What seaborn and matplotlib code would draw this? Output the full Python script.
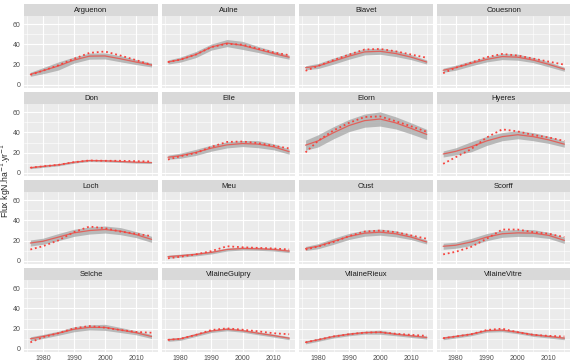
import numpy as np
import pandas as pd
import matplotlib
matplotlib.use("Agg")
import matplotlib.pyplot as plt
import seaborn as sns

years = [1976, 1980, 1985, 1990, 1995, 2000, 2005, 2010, 2015]

rivers = ["Arguenon", "Aulne", "Blavet", "Couesnon",
          "Don", "Elle", "Elorn", "Hyeres",
          "Loch", "Meu", "Oust", "Scorff",
          "Selche", "VilaineGuipry", "VilaineRieux", "VilaineVitre"]

# smoothed flux (solid line)
smooth = {
    "Arguenon": [10.5, 14, 18.7, 24.5, 28.4, 28.6, 25.8, 22.6, 19.7],
    "Aulne": [22.6, 25, 30, 37.4, 41.3, 39, 35, 31, 27.4],
    "Blavet": [17, 18.7, 23.5, 28.4, 32.6, 33.2, 31, 27.4, 22.6],
    "Couesnon": [14.5, 17, 21.3, 25.2, 28, 27.4, 24.5, 20.3, 15.5],
    "Don": [5.2, 6.5, 8, 10.6, 12.3, 12, 11.3, 10.6, 10.3],
    "Elle": [15.5, 17, 20.3, 24.5, 27.7, 29, 28.4, 25.8, 21],
    "Elorn": [27.4, 31.6, 39.7, 46.8, 51.6, 53.2, 49.4, 43.9, 38],
    "Hyeres": [18.7, 21.3, 25.8, 31.6, 35.8, 37.7, 35.8, 32.6, 28.4],
    "Loch": [17.7, 19.4, 23.5, 27.7, 30, 31, 29.4, 26, 21.3],
    "Meu": [4.2, 5.2, 6.5, 8.4, 11.3, 12.3, 12, 11.3, 9.7],
    "Oust": [12.3, 14.5, 19.4, 24.2, 27.4, 28.4, 26.8, 23.5, 18.7],
    "Scorff": [14.5, 15.5, 18.7, 23.5, 26.8, 27.7, 27.4, 25.2, 20.3],
    "Selche": [10, 12.3, 15.5, 19.4, 21.3, 21.3, 18.7, 16, 12.3],
    "VilaineGuipry": [9, 10, 13.9, 17.7, 19.4, 18, 15.5, 13.2, 10.6],
    "VilaineRieux": [6.5, 9, 12.3, 14.5, 16.1, 16.5, 14.5, 12.9, 11.3],
    "VilaineVitre": [10.6, 12.3, 14.5, 18, 18.5, 16.5, 13.9, 12.3, 10.6],
}

# modelled flux (dotted line)
dotted = {
    "Arguenon": [10, 14, 19.4, 25.8, 31.6, 33, 29, 24.5, 19.7],
    "Aulne": [22.6, 25, 30, 37.4, 40.6, 39.7, 35.8, 32, 29.4],
    "Blavet": [14, 18.7, 24.5, 30, 35, 35.5, 33.2, 30, 26.8],
    "Couesnon": [11.6, 17, 22, 27.4, 30.6, 29, 26, 23, 20],
    "Don": [5.2, 6.5, 8, 10.6, 12.3, 12, 12, 11.6, 11.3],
    "Elle": [13.2, 16.5, 19.7, 25.8, 30.6, 31, 29.4, 26.8, 24.2],
    "Elorn": [20.3, 31.6, 42, 49.4, 55.2, 55.8, 51, 46, 40.6],
    "Hyeres": [9, 15.5, 23.5, 35, 43, 41, 37.4, 35, 31.6],
    "Loch": [11.3, 14.5, 20.3, 28.4, 33.9, 32.3, 29, 26.8, 24.5],
    "Meu": [2.6, 4.2, 6.5, 9.7, 14.5, 13.5, 12.9, 12.3, 11.3],
    "Oust": [11.3, 14.2, 18.7, 24.5, 29, 30, 28.4, 25.2, 21.9],
    "Scorff": [6.5, 9, 13.9, 21.9, 31, 31, 28.4, 26.8, 23.5],
    "Selche": [6.5, 11.6, 15.5, 20.3, 22.6, 21, 18.7, 16.8, 16],
    "VilaineGuipry": [9, 10, 13.9, 18.7, 20.3, 19, 17.4, 15.5, 14.5],
    "VilaineRieux": [6.5, 9, 12.3, 14.5, 16.1, 16.5, 15, 13.9, 12.9],
    "VilaineVitre": [10.6, 12.3, 14.5, 18.7, 20, 16.5, 13.9, 12.9, 12.3],
}

# half width of the grey confidence band
band = {
    "Arguenon": [2, 3, 4, 3, 3, 3, 3, 2.5, 2],
    "Aulne": [2, 2.5, 3, 3, 3.5, 4, 3, 2.5, 2],
    "Blavet": [2, 2.5, 3, 3, 3, 3, 3, 2.5, 2],
    "Couesnon": [2, 2.5, 2.5, 2.5, 3, 3, 2.5, 2.5, 2],
    "Don": [1, 1, 1, 1, 1, 1, 1, 1, 1],
    "Elle": [2, 2.5, 3, 3, 3, 3, 3.5, 3, 2.5],
    "Elorn": [5, 6, 6, 6, 6.5, 7, 6, 5.5, 5],
    "Hyeres": [3, 3.5, 5, 4.5, 4, 4, 4, 3.5, 3],
    "Loch": [3, 3, 3.5, 3.5, 3.5, 3.5, 3.5, 3, 3],
    "Meu": [1.5, 1.5, 1.5, 1.5, 1.5, 1.5, 1.5, 1.5, 1.5],
    "Oust": [2, 2.5, 3, 3, 3, 3, 3, 2.5, 2],
    "Scorff": [3, 3, 3.5, 3.5, 3.5, 3.5, 3.5, 3, 3],
    "Selche": [2, 2, 2, 2.5, 2.5, 3, 2.5, 2, 2],
    "VilaineGuipry": [1.5, 1.5, 1.5, 1.5, 1.5, 1.5, 1.5, 1.5, 1.5],
    "VilaineRieux": [1.5, 1.5, 1.5, 1.5, 1.5, 2, 1.5, 1.5, 1.5],
    "VilaineVitre": [1.5, 1.5, 1.5, 1.5, 1.5, 1.5, 1.5, 1.5, 1.5],
}

sns.set_style("darkgrid", {"axes.facecolor": "#EBEBEB", "grid.color": "white"})
plt.rcParams["font.family"] = ["Liberation Sans", "DejaVu Sans"]

W, H = 575, 362
fig = plt.figure(figsize=(W / 100, H / 100), dpi=100)

left0, colstep, pw = 24.3, 137.6, 133.3
top0, rowstep, ph, sh = 16, 88, 72, 12

for i, r in enumerate(rivers):
    row, col = divmod(i, 4)
    x0 = left0 + col * colstep
    ytop = top0 + row * rowstep
    ax = fig.add_axes([x0 / W, 1 - (ytop + ph) / H, pw / W, ph / H])
    sax = fig.add_axes([x0 / W, 1 - ytop / H, pw / W, sh / H])
    sax.set_facecolor("#D9D9D9")
    sax.set_xticks([]); sax.set_yticks([])
    for s in sax.spines.values():
        s.set_visible(False)
    sax.text(0.5, 0.45, r, ha="center", va="center", fontsize=5.5, color="#1A1A1A")

    df = pd.DataFrame({"year": years, "smooth": smooth[r], "dotted": dotted[r],
                       "hw": band[r]})
    ax.fill_between(df["year"], df["smooth"] - df["hw"], df["smooth"] + df["hw"],
                    color="#A6A6A6", alpha=0.75, lw=0, zorder=2)
    sns.lineplot(data=df, x="year", y="smooth", ax=ax, color="#E0625C", lw=0.9, zorder=3)
    sns.lineplot(data=df, x="year", y="dotted", ax=ax, color="#F8423C", lw=1.3,
                 linestyle=(0, (1, 1.6)), zorder=4)

    ax.set_xlim(1974.05, 2016.95)
    ax.set_ylim(-3, 68)
    ax.set_xticks([1980, 1990, 2000, 2010])
    ax.set_xticks([1975, 1985, 1995, 2005, 2015], minor=True)
    ax.set_yticks([0, 20, 40, 60])
    ax.set_yticks([10, 30, 50], minor=True)
    ax.grid(which="major", color="white", lw=0.8)
    ax.grid(which="minor", color="white", lw=0.4)
    for s in ax.spines.values():
        s.set_visible(False)
    ax.set_xlabel(""); ax.set_ylabel("")
    ax.tick_params(which="major", length=1.5, width=0.5, color="#333333",
                   labelsize=5, labelcolor="#4D4D4D", pad=1)
    ax.tick_params(axis="x", which="major", pad=0.3)
    ax.tick_params(which="minor", length=0)
    if col != 0:
        ax.tick_params(axis="y", which="major", length=0, labelleft=False)
    if row != 3:
        ax.tick_params(axis="x", which="major", length=0, labelbottom=False)

fig.text(6 / W, 1 - 180 / H, "Flux kgN.ha$^{-1}$.yr$^{-1}$", rotation=90,
         ha="center", va="center", fontsize=6.2)

fig.savefig("out.png", dpi=100)
